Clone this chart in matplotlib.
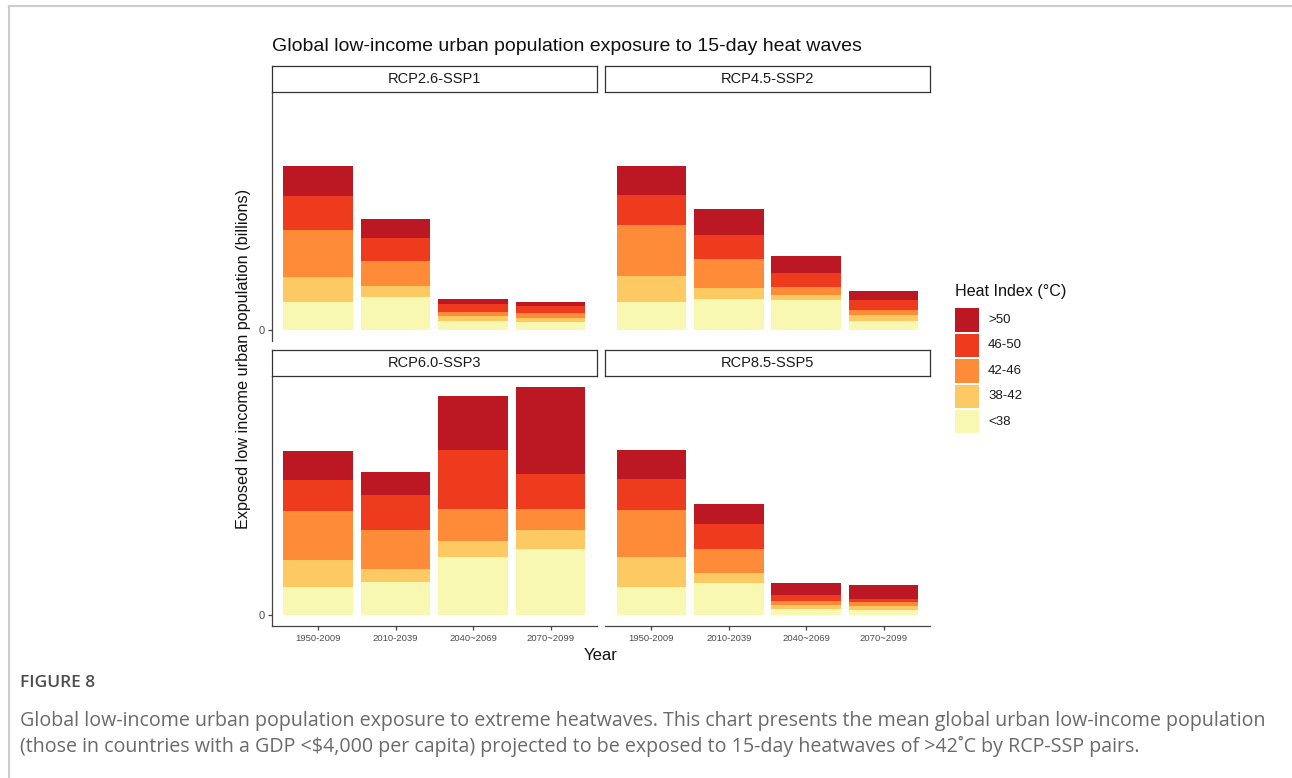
import matplotlib.pyplot as plt
from matplotlib.patches import Rectangle
from matplotlib.lines import Line2D
import numpy as np

plt.rcParams["font.family"] = ["Liberation Sans", "DejaVu Sans"]

periods = ["1950-2009", "2010-2039", "2040~2069", "2070~2099"]
scenarios = ["RCP2.6-SSP1", "RCP4.5-SSP2", "RCP6.0-SSP3", "RCP8.5-SSP5"]
bins = ["<38", "38-42", "42-46", "46-50", ">50"]
colors = ["#F9F8B3", "#FDC962", "#FD8B37", "#EE3A1D", "#BC1823"]

# exposed population in billions; rows = heat index bins (<38 ... >50), cols = periods
rcp26_ssp1 = [[0.112, 0.131, 0.034, 0.031],
              [0.100, 0.043, 0.019, 0.016],
              [0.187, 0.103, 0.017, 0.018],
              [0.137, 0.092, 0.032, 0.029],
              [0.118, 0.076, 0.019, 0.016]]
rcp45_ssp2 = [[0.112, 0.122, 0.118, 0.033],
              [0.105, 0.047, 0.022, 0.024],
              [0.201, 0.115, 0.030, 0.020],
              [0.122, 0.097, 0.056, 0.040],
              [0.117, 0.103, 0.070, 0.039]]
rcp60_ssp3 = [[0.111, 0.131, 0.231, 0.263],
              [0.109, 0.050, 0.062, 0.076],
              [0.192, 0.156, 0.130, 0.081],
              [0.127, 0.142, 0.234, 0.140],
              [0.116, 0.092, 0.216, 0.347]]
rcp85_ssp5 = [[0.112, 0.126, 0.022, 0.020],
              [0.117, 0.039, 0.017, 0.013],
              [0.189, 0.095, 0.015, 0.016],
              [0.123, 0.101, 0.024, 0.015],
              [0.117, 0.079, 0.049, 0.056]]

data = [rcp26_ssp1, rcp45_ssp2, rcp60_ssp3, rcp85_ssp5]

W, H = 1292, 778
fig = plt.figure(figsize=(W / 100, H / 100), dpi=100)

def fx(x):
    return x / W

def fy(y):
    return 1 - y / H

# page frame lines
fig.add_artist(Line2D([fx(9), 1], [fy(5.5), fy(5.5)], color="#cccccc", lw=1.5))
fig.add_artist(Line2D([fx(9), fx(9)], [fy(5.5), 0], color="#cccccc", lw=1.5))

cols = [(271.5, 597), (605, 930)]
rows = [(92, 341), (376, 626)]
strips = [(66, 91.5), (350, 376)]

ymax = max(np.array(d).sum(axis=0).max() for d in data)
x = np.arange(len(periods))

for k, (name, vals) in enumerate(zip(scenarios, data)):
    r, c = divmod(k, 2)
    x0, x1 = cols[c]
    y0, y1 = rows[r]
    ax = fig.add_axes([fx(x0), fy(y1), fx(x1 - x0), (y1 - y0) / H])
    vals = np.array(vals)
    bottom = np.zeros(len(periods))
    for i in range(len(bins)):
        ax.bar(x, vals[i], 0.9, bottom=bottom, color=colors[i], linewidth=0)
        bottom += vals[i]
    ax.set_xlim(-0.6, len(periods) - 0.4)
    ax.set_ylim(-0.05 * ymax, 1.05 * ymax)
    for s in ["top", "right"]:
        ax.spines[s].set_visible(False)
    ax.spines["left"].set_visible(c == 0)
    ax.spines["bottom"].set_visible(r == 1)
    for s in ["left", "bottom"]:
        ax.spines[s].set_color("#444444")
        ax.spines[s].set_linewidth(0.9)
    ax.set_yticks([0] if c == 0 else [])
    ax.set_yticklabels(["0"] if c == 0 else [])
    ax.set_xticks(x if r == 1 else [])
    ax.set_xticklabels(periods if r == 1 else [])
    ax.tick_params(axis="x", length=3, width=0.9, color="#444444", pad=3,
                   labelsize=6.8, labelcolor="#4d4d4d")
    ax.tick_params(axis="y", length=3, width=0.9, color="#444444", pad=2,
                   labelsize=8, labelcolor="#4d4d4d")

    # facet strip
    s0, s1 = strips[r]
    sax = fig.add_axes([fx(x0), fy(s1), fx(x1 - x0), (s1 - s0) / H])
    sax.set_xticks([])
    sax.set_yticks([])
    for sp in sax.spines.values():
        sp.set_color("#333333")
        sp.set_linewidth(0.9)
    sax.text(0.5, 0.5, name, ha="center", va="center", fontsize=10.5,
             color="#1a1a1a", transform=sax.transAxes)

fig.text(fx(271.5), fy(46.5), "Global low-income urban population exposure to 15-day heat waves",
         ha="left", va="center", fontsize=14, color="#111111")
fig.text(fx(244), fy(359), "Exposed low income urban population (billions)",
         rotation=90, ha="center", va="center", fontsize=11.7, color="#111111")
fig.text(fx(600.7), fy(655), "Year", ha="center", va="center", fontsize=12, color="#111111")

# legend
fig.text(fx(955), fy(292), "Heat Index (°C)", ha="left", va="center", fontsize=11.6, color="#111111")
key_top = 308.3
key_h = 23.5
key_step = 25.4
for j, i in enumerate(range(len(bins) - 1, -1, -1)):
    yt = key_top + j * key_step
    fig.add_artist(Rectangle((fx(955), fy(yt + key_h)), fx(24), key_h / H,
                             facecolor=colors[i], edgecolor="none"))
    fig.text(fx(988), fy(yt + key_h / 2), bins[i], ha="left", va="center",
             fontsize=9.5, color="#1a1a1a")

# caption
fig.text(fx(20), fy(683), "FIGURE 8", ha="left", va="center", fontsize=12.5,
         family=["Open Sans", "DejaVu Sans"], color="#4d4d4d", fontweight="semibold")
fig.text(fx(20), fy(721),
         "Global low-income urban population exposure to extreme heatwaves. This chart presents the mean global urban low-income population",
         ha="left", va="center", fontsize=14.1, family=["Open Sans", "DejaVu Sans"], color="#6a6a6a")
fig.text(fx(20), fy(746),
         "(those in countries with a GDP <$4,000 per capita) projected to be exposed to 15-day heatwaves of >42\u02daC by RCP-SSP pairs.",
         ha="left", va="center", fontsize=14.1, family=["Open Sans", "DejaVu Sans"], color="#6a6a6a")

fig.savefig("out.png", dpi=100)
